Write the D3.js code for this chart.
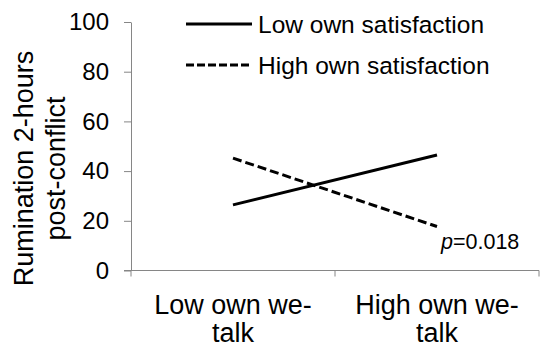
<!DOCTYPE html>
<html>
<head>
<meta charset="utf-8">
<script src="https://cdn.jsdelivr.net/npm/d3@7"></script>
<style>
  body { margin: 0; background: #fff; }
  text { font-family: "Liberation Sans", Arial, sans-serif; fill: #000; }
</style>
</head>
<body>
<div id="graphic"></div>
<script>
// Chart data
var categories = ['Low own we-talk', 'High own we-talk'];
var categoryLines = [['Low own we-', 'talk'], ['High own we-', 'talk']];
var seriesNames = ['Low own satisfaction', 'High own satisfaction'];
var lowSatisfaction = [26.4, 46.5];
var highSatisfaction = [45.2, 17.7];
var yTicks = [0, 20, 40, 60, 80, 100];
var pLabel = '0.018';

/*
 * Render the graphic.
 */
var renderGraphic = function () {
  var width = 540;
  var height = 351;
  var margins = { top: 22, right: 1, bottom: 80, left: 131 };

  var svg = d3.select('#graphic')
    .append('svg')
    .attr('width', width)
    .attr('height', height);

  var x = d3.scaleBand()
    .domain(categories)
    .range([margins.left, width - margins.right]);

  var y = d3.scaleLinear()
    .domain([0, 100])
    .range([270.5, margins.top]);

  var axisColor = '#868686';

  // y axis
  var yAxis = svg.append('g')
    .attr('transform', 'translate(' + margins.left + ',0)')
    .call(d3.axisLeft(y).tickValues(yTicks).tickSize(7).tickPadding(15).tickSizeOuter(0));
  yAxis.select('.domain').attr('stroke', axisColor);
  yAxis.selectAll('.tick line').attr('stroke', axisColor);
  yAxis.selectAll('.tick text')
    .attr('font-size', 24)
    .attr('font-family', '"Liberation Sans", Arial, sans-serif')
    .attr('fill', '#000');

  // x axis with boundary ticks
  var xAxisG = svg.append('g')
    .attr('transform', 'translate(0,' + y(0) + ')');
  xAxisG.append('line')
    .attr('x1', margins.left - 7)
    .attr('x2', width - margins.right)
    .attr('stroke', axisColor);
  var bounds = [x.range()[0]].concat(categories.map(function (c) { return x(c) + x.bandwidth(); }));
  xAxisG.selectAll('.xtick')
    .data(bounds)
    .enter().append('line')
    .attr('x1', function (d) { return d; })
    .attr('x2', function (d) { return d; })
    .attr('y1', 0)
    .attr('y2', 6)
    .attr('stroke', axisColor);

  // category labels
  categories.forEach(function (c, i) {
    var t = svg.append('text')
      .attr('text-anchor', 'middle')
      .attr('font-size', 27)
      .attr('x', x(c) + x.bandwidth() / 2)
      .attr('y', 314);
    categoryLines[i].forEach(function (line, j) {
      t.append('tspan')
        .attr('x', x(c) + x.bandwidth() / 2)
        .attr('dy', j === 0 ? 0 : 28)
        .text(line);
    });
  });

  // y axis title
  var yTitle = svg.append('text')
    .attr('text-anchor', 'middle')
    .attr('font-size', 27)
    .attr('transform', 'translate(32.5,168.5) rotate(-90)');
  yTitle.append('tspan').attr('x', 0).attr('dy', 0).text('Rumination 2-hours');
  yTitle.append('tspan').attr('x', 0).attr('dy', 32.5).text('post-conflict');

  // lines
  var line = d3.line()
    .x(function (d, i) { return x(categories[i]) + x.bandwidth() / 2; })
    .y(function (d) { return y(d); });

  svg.append('path')
    .datum(lowSatisfaction)
    .attr('d', line)
    .attr('fill', 'none')
    .attr('stroke', '#000')
    .attr('stroke-width', 3);

  svg.append('path')
    .datum(highSatisfaction)
    .attr('d', line)
    .attr('fill', 'none')
    .attr('stroke', '#000')
    .attr('stroke-width', 3)
    .attr('stroke-dasharray', '9,4');

  // p-value label
  var pText = svg.append('text')
    .attr('font-size', 21.5)
    .attr('x', 441)
    .attr('y', 249);
  pText.append('tspan').attr('font-style', 'italic').text('p');
  pText.append('tspan').text('=' + pLabel);

  // legend
  var legend = svg.append('g');
  seriesNames.forEach(function (name, i) {
    var ly = 24 + i * 41;
    legend.append('line')
      .attr('x1', 186)
      .attr('x2', 252)
      .attr('y1', ly)
      .attr('y2', ly)
      .attr('stroke', '#000')
      .attr('stroke-width', 3)
      .attr('stroke-dasharray', i === 0 ? null : '8,3');
    legend.append('text')
      .attr('font-size', 24.5)
      .attr('x', 258)
      .attr('y', ly + 9)
      .text(name);
  });
};

renderGraphic();
</script>
</body>
</html>
